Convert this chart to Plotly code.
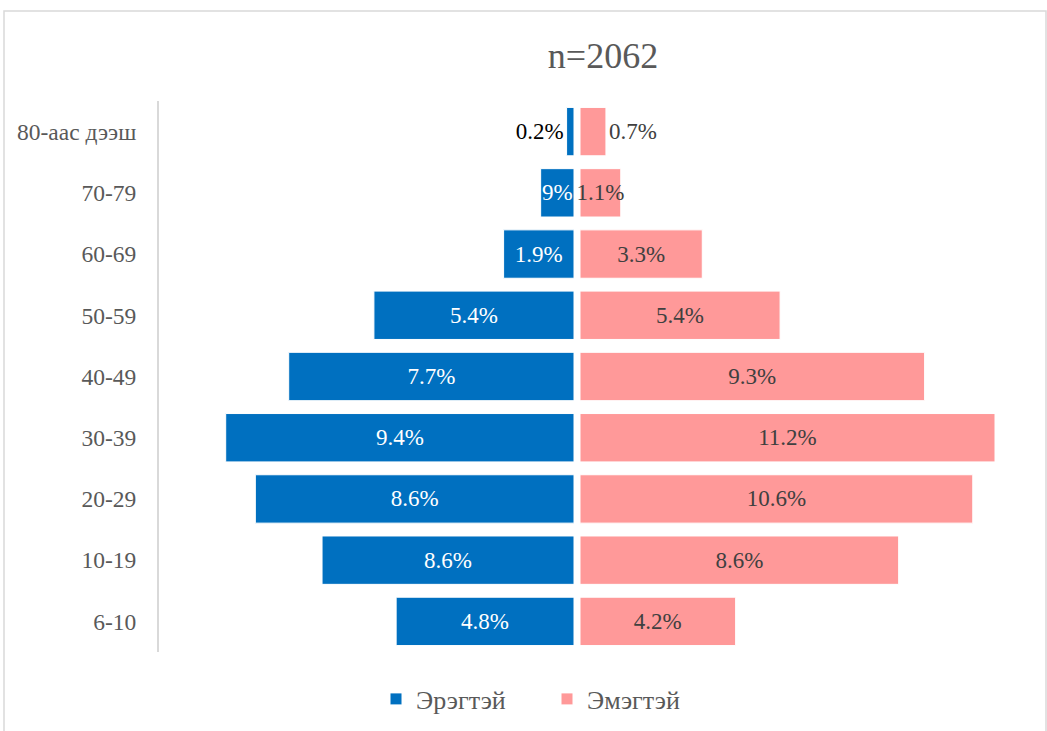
import plotly.graph_objects as go

categories = ["6-10", "10-19", "20-29", "30-39", "40-49", "50-59", "60-69", "70-79", "80-аас дээш"]
male = [4.8, 6.8, 8.6, 9.4, 7.7, 5.4, 1.9, 0.9, 0.2]
female = [4.2, 8.6, 10.6, 11.2, 9.3, 5.4, 3.3, 1.1, 0.7]
male_labels = ["4.8%", "8.6%", "8.6%", "9.4%", "7.7%", "5.4%", "1.9%", "9%", "0.2%"]
female_labels = ["4.2%", "8.6%", "10.6%", "11.2%", "9.3%", "5.4%", "3.3%", "1.1%", "0.7%"]
male_pos = ["inside"] * 8 + ["outside"]
female_pos = ["inside"] * 8 + ["outside"]

FONT = "'Liberation Serif', 'Times New Roman', 'DejaVu Serif', serif"
W, H = 1047, 731
L, T = 159, 101
R = W - 995
B = H - 652
pw = W - L - R
ph = H - T - B

fig = go.Figure()
fig.add_trace(go.Bar(
    y=categories, x=male, orientation="h", name="Эрэгтэй",
    marker=dict(color="#0070C0", line=dict(color="white", width=1)),
    text=male_labels, textposition=male_pos, insidetextanchor="middle",
    textangle=0, constraintext="none", cliponaxis=False,
    insidetextfont=dict(color="white", size=23, family=FONT),
    outsidetextfont=dict(color="black", size=23, family=FONT),
    xaxis="x", yaxis="y", hoverinfo="skip",
))
fig.add_trace(go.Bar(
    y=categories, x=female, orientation="h", name="Эмэгтэй",
    marker=dict(color="#FF9999", line=dict(color="white", width=1)),
    text=female_labels, textposition=female_pos, insidetextanchor="middle",
    textangle=0, constraintext="none", cliponaxis=False,
    insidetextfont=dict(color="#404040", size=23, family=FONT),
    outsidetextfont=dict(color="#404040", size=23, family=FONT),
    xaxis="x2", yaxis="y", hoverinfo="skip",
))

split_l = 415 / pw
split_r = 421 / pw

fig.update_layout(
    width=W, height=H,
    margin=dict(l=L, r=R, t=T, b=B),
    paper_bgcolor="white", plot_bgcolor="white",
    font=dict(family=FONT, color="#595959"),
    bargap=0.21,
    showlegend=True,
    title=dict(text="n=2062", x=603 / W, xref="container", xanchor="center",
               y=1 - 55 / H, yref="container", yanchor="middle",
               font=dict(size=36, color="#595959", family=FONT)),
    xaxis=dict(domain=[0, split_l], range=[11.2, 0], showgrid=False, zeroline=False,
               showticklabels=False, showline=False, fixedrange=True),
    xaxis2=dict(domain=[split_r, 1], range=[0, 11.2], showgrid=False, zeroline=False,
                showticklabels=False, showline=False, fixedrange=True),
    yaxis=dict(anchor="x", showline=True, linecolor="#D9D9D9", linewidth=2,
               ticks="", showgrid=False, zeroline=False, ticklabelstandoff=16,
               tickfont=dict(size=23.5, color="#595959", family=FONT), fixedrange=True),
    legend=dict(orientation="h", xref="container", x=376 / W, xanchor="left",
                yref="container", y=1 - 699 / H, yanchor="middle",
                entrywidth=126, entrywidthmode="pixels",
                font=dict(size=26, color="#595959", family=FONT)),
)

# chart border
fig.add_shape(type="rect", xref="paper", yref="paper",
              x0=(4 - L) / pw, x1=(1046 - L) / pw,
              y0=-(745 - 652) / ph, y1=(652 - 11) / ph,
              line=dict(color="#D9D9D9", width=1.5), fillcolor="rgba(0,0,0,0)", layer="below")

fig.write_html("out.html", config={"displayModeBar": False},
               post_script="document.body.style.margin='0';")
